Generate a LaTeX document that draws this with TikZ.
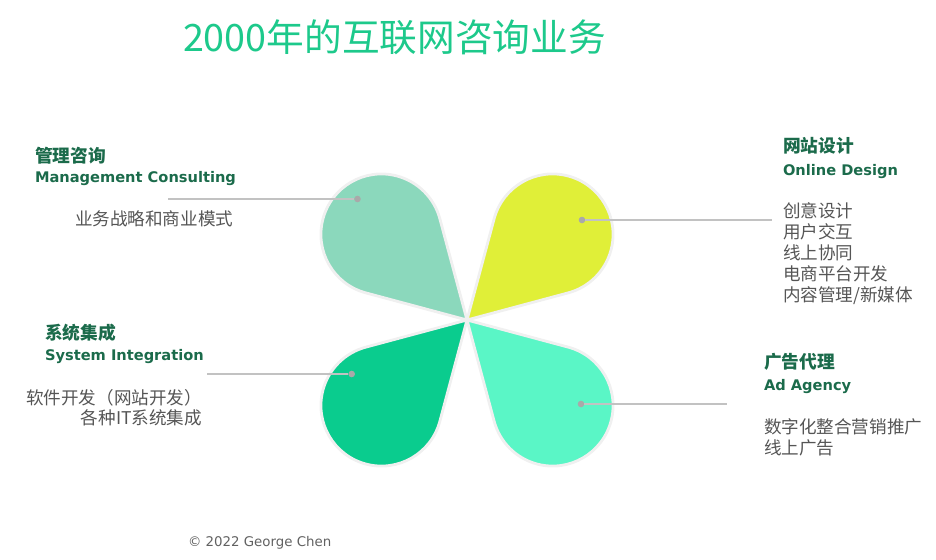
\documentclass[tikz,border=0pt]{standalone}
\usepackage{fontspec}
\setmainfont{DejaVu Sans}
\newfontfamily\cjk{Noto Sans CJK SC}
\usetikzlibrary{positioning}

\definecolor{petalmint}{HTML}{8BD8BC}
\definecolor{petallime}{HTML}{E0EF38}
\definecolor{petalgreen}{HTML}{0ACC8E}
\definecolor{petalaqua}{HTML}{5AF6C6}
\definecolor{titlegreen}{HTML}{1DC98B}
\definecolor{headgreen}{HTML}{1B6B4B}
\definecolor{bodygray}{HTML}{555555}
\definecolor{leadgray}{HTML}{C2C2C2}
\definecolor{dotgray}{HTML}{A9A9A9}

\begin{document}
\begin{tikzpicture}[
  x=0.025cm, y=0.025cm,
  every node/.style={inner sep=0pt, outer sep=0pt, anchor=base west},
  petal/.style={draw=black!6, line width=2pt, line join=round},
  zhhead/.style={text=headgreen, font=\fontsize{12.6pt}{15pt}\selectfont\cjk\bfseries},
  enhead/.style={text=headgreen, font=\fontsize{10.4pt}{13pt}\selectfont\bfseries},
  body/.style={text=bodygray, font=\fontsize{12.5pt}{15pt}\selectfont\cjk},
  dot/.style={circle, fill=dotgray, minimum size=4.7pt, anchor=center},
  leader/.style={draw=leadgray, line width=1.2pt}
]
\useasboundingbox (0,0) rectangle (936,-560);

% title
\node[text=titlegreen, font=\fontsize{26.8pt}{32pt}\selectfont\cjk] (title) at (183,-51) {2000年的互联网咨询业务};

% four petals round one tip
\coordinate (tip) at (467,-320);
\foreach \ang/\col in {135/petalmint, 45/petallime, 225/petalgreen, 315/petalaqua}
  \path[petal, fill=\col] (tip) -- ++({\ang+30}:104.8)
    arc[start angle={\ang+120}, end angle={\ang-120}, radius=60.5] -- cycle;

% dots and leader lines
\node[dot] (mcdot) at (357.5,-199) {};
\node[dot] (oddot) at (582,-220) {};
\node[dot] (sidot) at (351.7,-374) {};
\node[dot] (addot) at (581,-404) {};
\coordinate (mcend) at (168,-199);
\coordinate (odend) at (772,-220);
\coordinate (siend) at (207,-374);
\coordinate (adend) at (727,-404);
\draw[leader] (mcend) -- (mcdot);
\draw[leader] (oddot) -- (odend);
\draw[leader] (siend) -- (sidot);
\draw[leader] (addot) -- (adend);

% management consulting
\node[zhhead] (mczh) at (35,-162) {管理咨询};
\node[enhead] (mcen) at (35,-182.7) {Management Consulting};
\node[body] (mc0) at (75,-225.5) {业务战略和商业模式};

% online design
\node[zhhead] (odzh) at (783,-152) {网站设计};
\node[enhead] (oden) at (783,-175) {Online Design};
\foreach \txt [count=\i from 0] in {创意设计, 用户交互, 线上协同, 电商平台开发, 内容管理/新媒体}
  \node[body, name=od\i] at (783,-217-21*\i) {\txt};

% system integration
\node[zhhead] (sizh) at (45,-339) {系统集成};
\node[enhead] (sien) at (45,-360) {System Integration};
\node[body, anchor=base east] (si0) at (202,-404) {软件开发（网站开发）};
\node[body, anchor=base east] (si1) at (202,-424) {各种IT系统集成};

% ad agency
\node[zhhead] (adzh) at (764,-368) {广告代理};
\node[enhead] (aden) at (764,-390) {Ad Agency};
\node[body] (ad0) at (764,-433) {数字化整合营销推广};
\node[body] (ad1) at (764,-454) {线上广告};

% footer
\node[text=black!62, font=\fontsize{9.5pt}{12pt}\selectfont] (foot) at (188,-546) {© 2022 George Chen};
\end{tikzpicture}
\end{document}
